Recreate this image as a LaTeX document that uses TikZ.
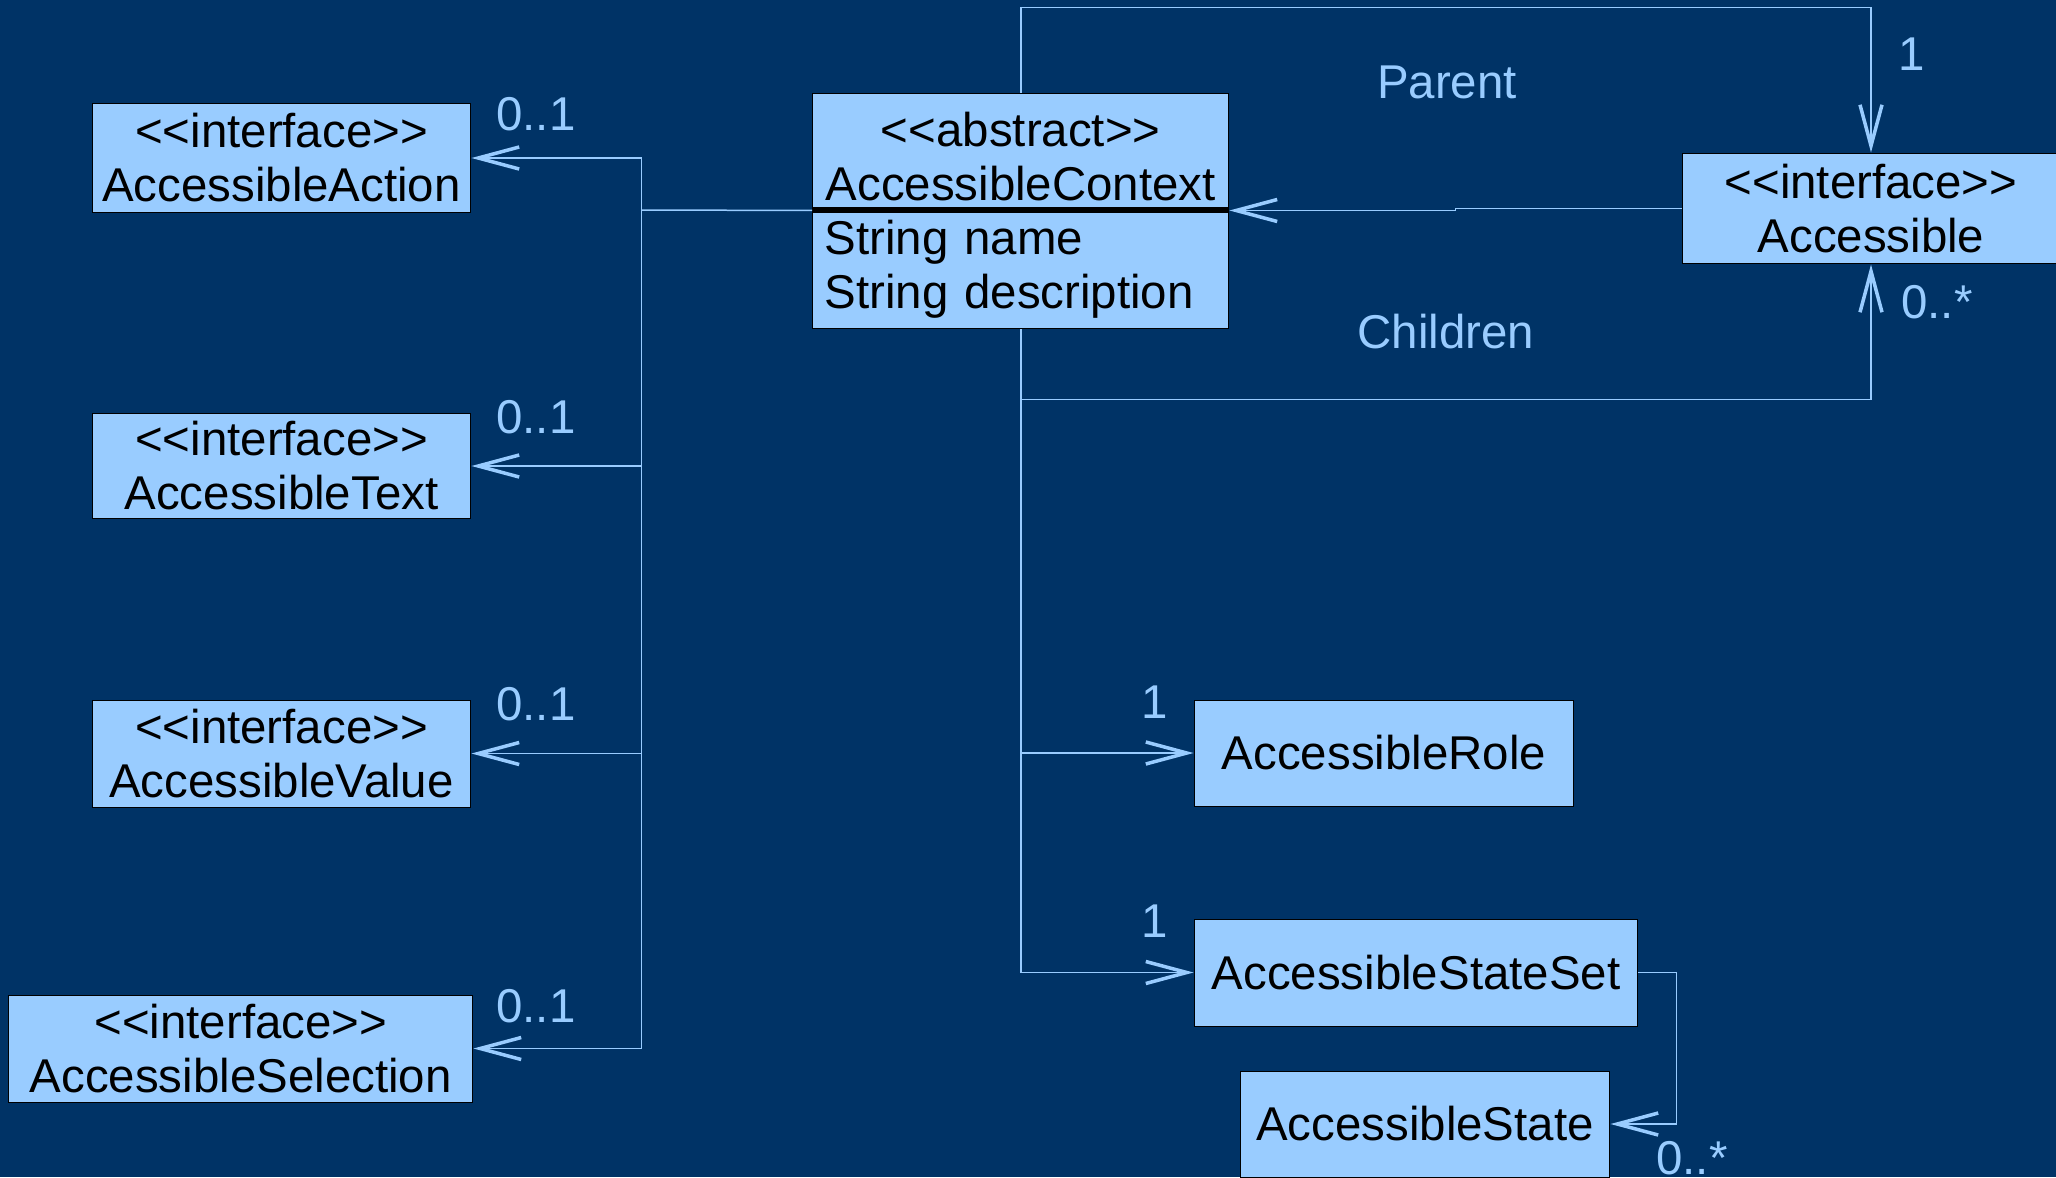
\documentclass[tikz,border=0pt]{standalone}
\usepackage{fontspec}
\setmainfont{Liberation Sans}
\usetikzlibrary{arrows.meta,calc}
\definecolor{bgnavy}{RGB}{0,51,102}
\definecolor{paleblue}{RGB}{153,204,255}

\newcommand{\stereotype}[1]{<\kern0pt<#1>\kern0pt>}

\tikzset{
  classbox/.style={draw=black,fill=paleblue,line width=0.02cm,inner sep=0pt,align=center,text=black},
  assoc/.style={draw=paleblue,line width=0.03cm,-{Straight Barb[length=0.82cm,width=0.44cm,line width=0.07cm]}},
  mult/.style={text=paleblue,inner sep=0pt,anchor=base west},
}

\begin{document}
\begin{tikzpicture}[x=0.02cm,y=-0.02cm,font=\fontsize{27}{30.7}\selectfont]
        \useasboundingbox (0,0) rectangle (2056,1177);
        \fill[bgnavy] (0,0) rectangle (2056,1177);

        % interfaces on the left
        \node[classbox,minimum width=7.58cm,minimum height=2.2cm] (act) at (281.5,158) {\stereotype{interface}\\AccessibleAction};
        \node[classbox,minimum width=7.58cm,minimum height=2.12cm] (txt) at (281.5,466) {\stereotype{interface}\\AccessibleText};
        \node[classbox,minimum width=7.58cm,minimum height=2.14cm] (val) at (281.5,753.5) {\stereotype{interface}\\AccessibleValue};
        \node[classbox,minimum width=9.29cm,minimum height=2.14cm] (sel) at (240.75,1048.5) {\stereotype{interface}\\AccessibleSelection};

        % context class
        \node[classbox,minimum width=8.33cm,minimum height=2.34cm] (ctxhead) at (1020.75,151.5) {\rule{0pt}{0.88cm}\stereotype{abstract}\\AccessibleContext};
        \node[classbox,minimum height=2.38cm,inner xsep=0.24cm,text width=7.85cm,align=left] (ctxbody) at (1020.75,269.5) {String name\\String description};
        \draw[line width=0.12cm] (ctxhead.south west) -- (ctxhead.south east);

        \node[classbox,minimum width=7.56cm,minimum height=2.22cm] (acc) at (1871,208.5) {\stereotype{interface}\\Accessible};
        \node[classbox,minimum width=7.6cm,minimum height=2.12cm] (role) at (1384,753) {AccessibleRole};
        \node[classbox,minimum width=8.88cm,minimum height=2.14cm] (sset) at (1416,972.5) {AccessibleStateSet};
        \node[classbox,minimum width=7.4cm,minimum height=2.12cm] (st) at (1425,1124) {AccessibleState};

        % associations
        \coordinate (bus) at (641.5,210);
        \draw[draw=paleblue,line width=0.03cm] (ctxhead.south west) -- (bus);
        \foreach \b in {act,txt,val,sel}
          \draw[assoc] (bus) |- (\b.east);

        \draw[assoc] (ctxhead.north) -- ++(0,-85) -| (acc.north);
        \draw[assoc] (ctxbody.south) -- ++(0,70) -| (acc.south);
        \draw[assoc] (acc.west) -| ($(acc.west)!.5!(ctxhead.south east)$) |- (ctxhead.south east);
        \draw[assoc] (ctxbody.south) |- (role.west);
        \draw[assoc] (ctxbody.south) |- (sset.west);
        \draw[assoc] (sset.east) -- ++(38,0) |- (st.east);

        % multiplicities and role names
        \foreach \y in {130,433,720,1022}
          \node[mult] at (496,\y) {0..1};
        \node[mult] at (1141,718) {1};
        \node[mult] at (1141,937) {1};
        \node[mult] at (1898,70) {1};
        \node[mult] at (1901,318) {0..*};
        \node[mult] at (1656,1174) {0..*};
        \node[mult,anchor=base] at (1447,98) {Parent};
        \node[mult,anchor=base] at (1446,348) {Children};
      \end{tikzpicture}
\end{document}
